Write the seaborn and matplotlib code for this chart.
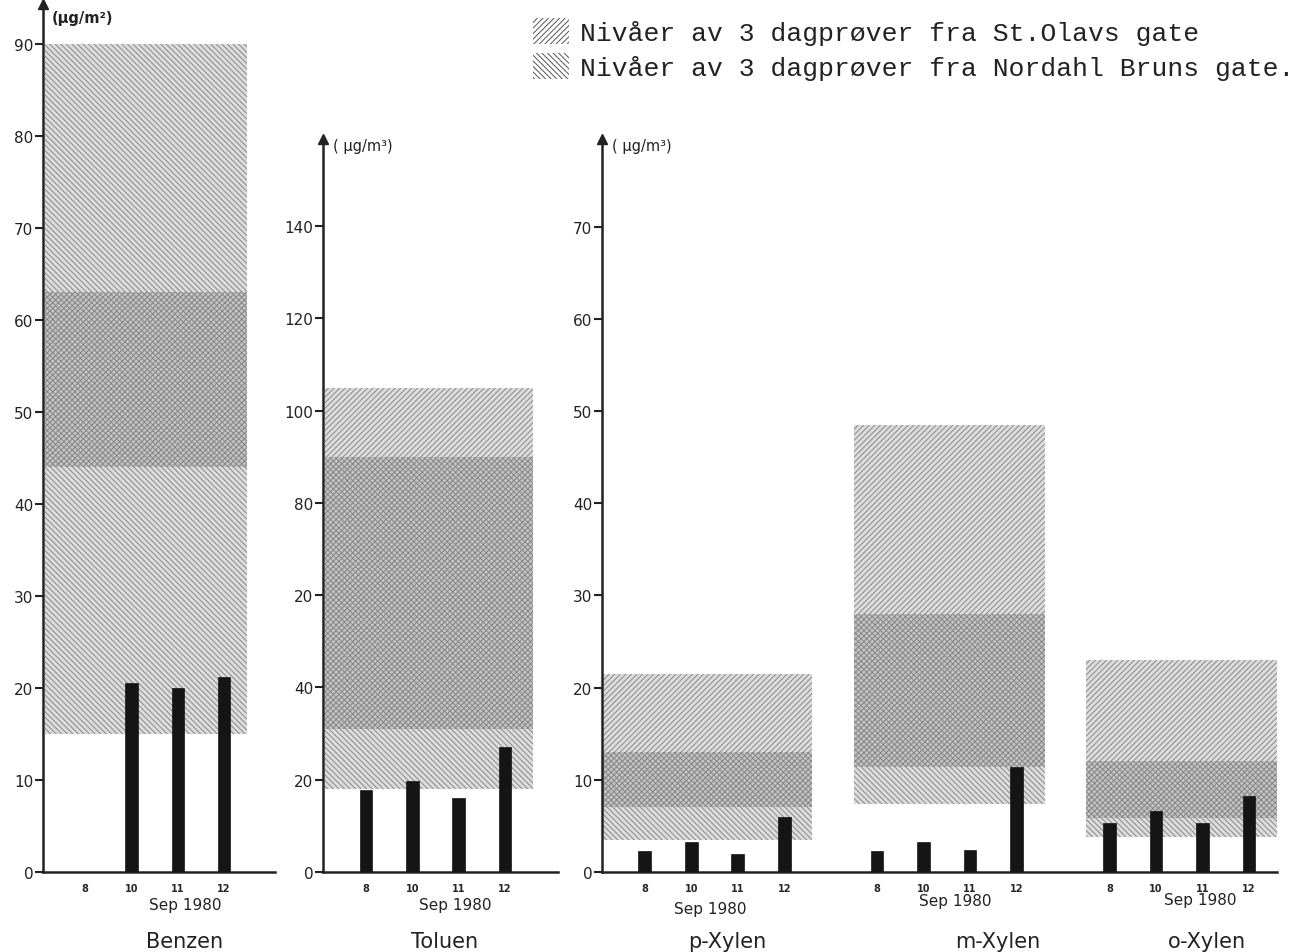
import matplotlib
matplotlib.use("Agg")
import matplotlib.pyplot as plt
from matplotlib.patches import Patch
import pandas as pd
import seaborn as sns

# ---- data (µg/m3) ----
days = ["8", "10", "11", "12"]
benzen = [0.0, 20.5, 20.0, 21.2]
toluen = [17.8, 19.7, 16.0, 27.0]
p_xylen = [2.3, 3.3, 2.0, 6.0]
m_xylen = [2.3, 3.3, 2.4, 11.4]
o_xylen = [5.3, 6.6, 5.3, 8.2]

# ranges (low, high) of the 3 day samples
olavs_benzen = (44, 63)
nordahl_benzen = (15, 90)
olavs_toluen = (31, 105)
nordahl_toluen = (18, 90)
olavs_xylen = [(7.0, 21.5), (11.4, 48.5), (5.9, 23.0)]
nordahl_xylen = [(3.5, 13.0), (7.4, 28.0), (3.8, 12.0)]

xylen_names = ["p-Xylen", "m-Xylen", "o-Xylen"]
benzen_ticks = [0, 10, 20, 30, 40, 50, 60, 70, 80, 90]
toluen_ticks = [0, 20, 40, 60, 80, 100, 120, 140]
toluen_ticklabels = ["0", "20", "40", "20", "80", "100", "120", "140"]
xylen_ticks = [0, 10, 20, 30, 40, 50, 60, 70]

legend_labels = ["Nivåer av 3 dagprøver fra St.Olavs gate",
                 "Nivåer av 3 dagprøver fra Nordahl Bruns gate."]

sns.set_theme(style="ticks")
plt.rcParams["font.family"] = ["DejaVu Sans"]
plt.rcParams["hatch.linewidth"] = 0.7

W, H = 1309, 953
fig = plt.figure(figsize=(W / 100, H / 100), dpi=100)
fig.patch.set_facecolor("white")


def px_axes(left, right, top, bottom=873):
    return fig.add_axes([left / W, 1 - bottom / H, (right - left) / W, (bottom - top) / H])


OLAVS_FACE = (0.55, 0.55, 0.55, 0.30)
NORDAHL_FACE = (0.55, 0.55, 0.55, 0.30)
HATCH_EC = (0.45, 0.45, 0.45, 0.8)


def shade(ax, x0, x1, rng, hatch, face):
    ax.fill_between([x0, x1], rng[0], rng[1], facecolor=face, edgecolor=HATCH_EC,
                    hatch=hatch, linewidth=0, zorder=1)


def style_axis(ax, ymax, ticks, labels=None):
    ax.set_ylim(0, ymax)
    ax.set_yticks(ticks)
    ax.set_yticklabels(labels if labels else [str(t) for t in ticks], fontsize=11)
    for s in ["top", "right"]:
        ax.spines[s].set_visible(False)
    ax.spines["left"].set_linewidth(1.8)
    ax.spines["bottom"].set_linewidth(1.8)
    ax.spines["left"].set_color("#222222")
    ax.spines["bottom"].set_color("#222222")
    ax.tick_params(axis="y", length=6, width=1.5, pad=1, colors="#222222")
    ax.tick_params(axis="x", length=0, pad=8)
    ax.set_xlabel("")
    ax.set_ylabel("")
    ax.set_facecolor("none")
    # arrow head at top of the y-axis
    ax.plot(0, 1, marker="^", color="#222222", markersize=7, transform=ax.transAxes, clip_on=False)


def bars(ax, pos, vals):
    df = pd.DataFrame({"pos": pos, "val": vals})
    sns.barplot(data=df, x="pos", y="val", native_scale=True, width=0.27,
                color="#151515", saturation=1, edgecolor="#151515", linewidth=0.5,
                ax=ax, zorder=3)


# ---------- Benzen ----------
ax1 = px_axes(43, 275, 5)
pos = list(range(4))
shade(ax1, -0.86, 3.5, nordahl_benzen, "\\\\\\\\\\\\", NORDAHL_FACE)
shade(ax1, -0.86, 3.5, olavs_benzen, "//////", OLAVS_FACE)
bars(ax1, pos, benzen)
ax1.set_xlim(-0.91, 4.1)
style_axis(ax1, 94.3, benzen_ticks)
ax1.set_xticks(pos)
ax1.set_xticklabels(days, fontsize=7, fontweight="bold")

# ---------- Toluen ----------
ax2 = px_axes(323, 558, 140)
shade(ax2, -0.89, 3.6, nordahl_toluen, "\\\\\\\\\\\\", NORDAHL_FACE)
shade(ax2, -0.89, 3.6, olavs_toluen, "//////", OLAVS_FACE)
bars(ax2, pos, toluen)
ax2.set_xlim(-0.93, 4.15)
style_axis(ax2, 158.9, toluen_ticks, toluen_ticklabels)
ax2.set_xticks(pos)
ax2.set_xticklabels(days, fontsize=7, fontweight="bold")

# ---------- Xylenes ----------
ax3 = px_axes(602, 1277, 140)
xpos, xvals, xlabels = [], [], []
spans = [(-1.0, 3.6), (4.5, 8.6), (9.5, 13.6)]
for g, vals in enumerate([p_xylen, m_xylen, o_xylen]):
    shade(ax3, spans[g][0], spans[g][1], nordahl_xylen[g], "\\\\\\\\\\\\", NORDAHL_FACE)
    shade(ax3, spans[g][0], spans[g][1], olavs_xylen[g], "//////", OLAVS_FACE)
    for i, v in enumerate(vals):
        xpos.append(g * 5 + i)
        xvals.append(v)
        xlabels.append(days[i])
bars(ax3, xpos, xvals)
ax3.set_xlim(-0.92, 13.6)
style_axis(ax3, 79.5, xylen_ticks)
ax3.set_xticks(xpos)
ax3.set_xticklabels(xlabels, fontsize=7, fontweight="bold")

# units
fig.text(52 / W, 1 - 18 / H, "(µg/m²)", fontsize=10.5, va="center", fontweight="bold", color="#222222")
fig.text(333 / W, 1 - 146 / H, "( µg/m³)", fontsize=10.5, va="center", color="#222222")
fig.text(612 / W, 1 - 146 / H, "( µg/m³)", fontsize=10.5, va="center", color="#222222")

# date and compound labels
for x, y in [(185, 906), (455, 906), (710, 910), (955, 902), (1200, 901)]:
    fig.text(x / W, 1 - y / H, "Sep 1980", fontsize=11, ha="center", va="center", color="#222222")
for x, name in [(185, "Benzen"), (445, "Toluen"), (727, xylen_names[0]),
                (998, xylen_names[1]), (1207, xylen_names[2])]:
    fig.text(x / W, 1 - 942 / H, name, fontsize=15, ha="center", va="center", color="#222222")

# legend
handles = [Patch(facecolor="white", edgecolor="#555555", hatch="//////", linewidth=0),
           Patch(facecolor="white", edgecolor="#555555", hatch="\\\\\\\\\\\\", linewidth=0)]
leg = fig.legend(handles, legend_labels, loc="upper left", bbox_to_anchor=(533 / W, 1 - 19 / H),
                 frameon=False, prop={"family": "Liberation Mono", "size": 19},
                 handlelength=1.35, handleheight=1.15, handletextpad=0.45, labelspacing=0.3,
                 borderaxespad=0, borderpad=0)
for t in leg.get_texts():
    t.set_color("#222222")

fig.savefig("out.png", dpi=100, facecolor="white")
